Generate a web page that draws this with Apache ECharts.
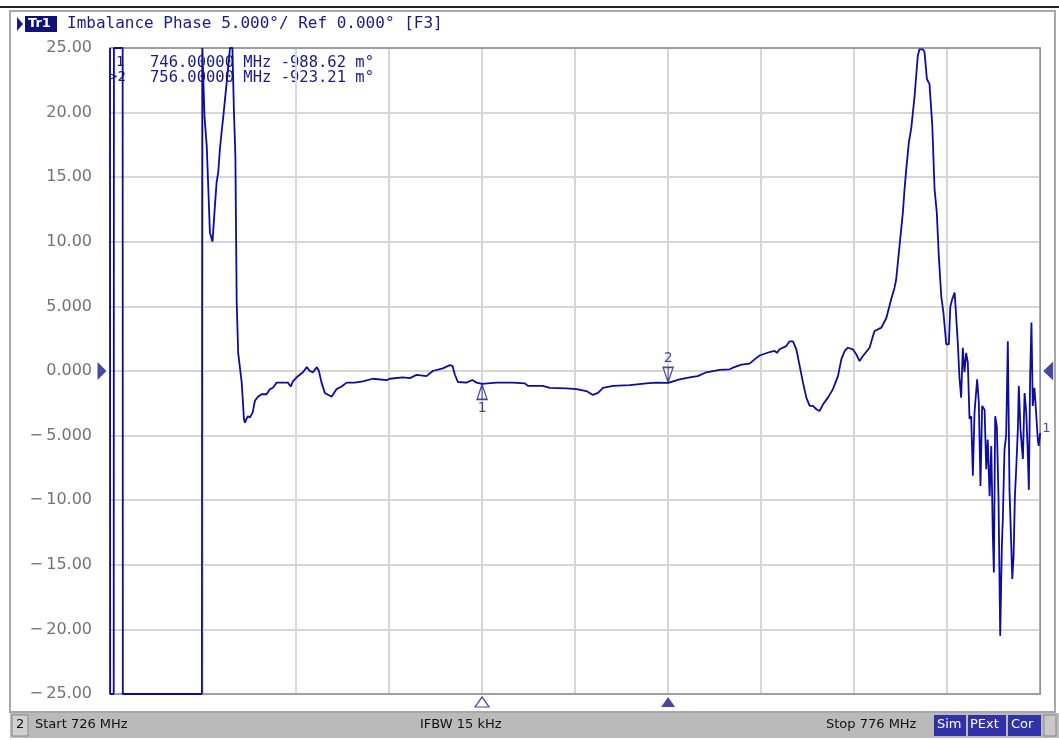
<!DOCTYPE html>
<html>
<head>
<meta charset="utf-8">
<script src="https://cdn.jsdelivr.net/npm/echarts@6/dist/echarts.min.js"></script>
<style>
html, body { margin: 0; padding: 0; background: #fff; }
#chart { width: 1059px; height: 740px; }
</style>
</head>
<body>
<div id="chart"></div>
<script>
// Imbalance phase trace, 726 - 776 MHz
var startMHz = 726;
var stopMHz = 776;

var freqMHz = [
  726.00, 726.01, 726.20, 726.21, 726.68, 726.69, 730.94, 730.96, 731.02,
  731.08, 731.20, 731.28, 731.37, 731.51, 731.64, 731.73, 731.82, 731.91, 732.00,
  732.09, 732.18, 732.27, 732.36, 732.45, 732.58, 732.66, 732.74, 732.81, 732.89,
  733.08, 733.20, 733.25, 733.41, 733.52, 733.67, 733.79, 733.95, 734.15, 734.42,
  734.60, 734.76, 734.96, 735.56, 735.72, 735.83, 736.10, 736.37, 736.58, 736.74,
  736.91, 737.12, 737.23, 737.37, 737.55, 737.91, 738.18, 738.45, 738.72, 739.16,
  739.59, 740.13, 740.87, 741.04, 741.74, 742.12, 742.48, 743.01, 743.35, 743.89,
  744.27, 744.41, 744.53, 744.70, 745.16, 745.48, 745.70, 746.00, 746.77, 747.65,
  748.29, 748.46, 749.26, 749.64, 750.53, 751.07, 751.61, 751.96, 752.23, 752.50,
  753.04, 753.94, 754.83, 755.37, 756.00, 756.62, 757.16, 757.59, 758.06, 758.77,
  759.31, 759.49, 759.94, 760.38, 760.65, 760.92, 761.46, 761.73, 761.85, 761.99,
  762.35, 762.53, 762.71, 762.89, 763.07, 763.25, 763.43, 763.61, 763.78, 763.97,
  764.14, 764.32, 764.59, 764.86, 765.13, 765.31, 765.49, 765.66, 765.93, 766.11,
  766.29, 766.47, 766.83, 767.01, 767.10, 767.46, 767.73, 767.99, 768.17, 768.26,
  768.44, 768.62, 768.71, 768.80, 768.94, 769.07, 769.25, 769.42, 769.51, 769.69,
  769.78, 769.91, 770.05, 770.20, 770.32, 770.44, 770.55, 770.68, 770.80, 770.95,
  771.09, 771.17, 771.27, 771.40, 771.45, 771.57, 771.66, 771.75, 771.84, 771.93,
  772.02, 772.11, 772.20, 772.29, 772.38, 772.47, 772.61, 772.70, 772.79, 772.88,
  773.01, 773.10, 773.18, 773.28, 773.37, 773.45, 773.51, 773.58, 773.67, 773.76,
  773.85, 773.94, 773.99, 774.08, 774.17, 774.26, 774.35, 774.44, 774.50, 774.57,
  774.64, 774.71, 774.80, 774.85, 774.94, 775.01, 775.07, 775.16, 775.25, 775.33,
  775.39, 775.46, 775.53, 775.60, 775.69, 775.78, 775.87, 775.92, 776.00
];

var phaseDeg = [
  25, -25, -25, 25, 25, -25, -25, 25, 25,
  19.7, 17.4, 14.3, 10.7, 10.0, 12.8, 14.6, 15.4, 17.2, 18.5,
  19.7, 21.0, 22.3, 23.6, 25, 25, 20.2, 16.6, 5.3, 1.4,
  -0.9, -3.7, -4.0, -3.5, -3.6, -3.2, -2.3, -2.0, -1.8, -1.8,
  -1.4, -1.3, -0.9, -0.9, -1.2, -0.8, -0.4, -0.1, 0.3, 0.0,
  -0.1, 0.3, 0.0, -0.9, -1.7, -2.0, -1.4, -1.2, -0.9, -0.9,
  -0.8, -0.6, -0.7, -0.6, -0.5, -0.55, -0.3, -0.4, 0.0, 0.2,
  0.45, 0.4, -0.25, -0.85, -0.9, -0.7, -0.9, -0.99, -0.9, -0.9,
  -0.95, -1.15, -1.15, -1.3, -1.35, -1.4, -1.55, -1.85, -1.7, -1.3,
  -1.15, -1.1, -0.95, -0.9, -0.92, -0.65, -0.5, -0.4, -0.1, 0.08,
  0.13, 0.26, 0.5, 0.57, 0.9, 1.2, 1.47, 1.55, 1.4, 1.68,
  1.93, 2.3, 2.3, 1.7, 0.4, -0.9, -2.06, -2.7, -2.7, -2.96,
  -3.1, -2.6, -2.06, -1.4, -0.4, 0.9, 1.55, 1.8, 1.68, 1.3,
  0.77, 1.16, 1.8, 2.7, 3.1, 3.36, 4.1, 5.55, 6.45, 7.1,
  9.7, 12.3, 14.1, 15.6, 17.7, 18.8, 21.3, 24.4, 24.9, 24.9,
  24.7, 22.6, 22.2, 19.0, 14.1, 12.3, 8.9, 5.8, 4.5, 2.07,
  2.07, 5.0, 5.55, 6.07, 5.0, 2.2, -0.5, -2.06, 1.8, -0.1,
  1.4, 0.65, -3.7, -3.5, -8.1, -3.2, -0.64, -2.4, -8.9, -2.7,
  -3.0, -7.6, -5.3, -9.7, -5.8, -12.5, -15.6, -3.5, -4.3, -9.9,
  -20.5, -13.5, -11.5, -6.1, -5.0, 2.3, -9.2, -13.3, -16.1, -14.3,
  -9.7, -7.6, -4.5, -1.16, -4.5, -5.8, -6.8, -1.7, -3.2, -6.3,
  -9.2, -0.4, 3.75, -2.7, -1.3, -3.2, -5.3, -5.8, -4.8
];

var yTickLabels = ['25.00', '20.00', '15.00', '10.00', '5.000', '0.000',
  '-5.000', '-10.00', '-15.00', '-20.00', '-25.00'];

var markerNames = ['1', '2'];
var markerFreqs = [746.0, 756.0];
var markerVals = [-0.98862, -0.92321];

var navy = '#1a1a8c';
var traceColor = '#0c0ca0';

var chart = echarts.init(document.getElementById('chart'));

var traceData = freqMHz.map(function (f, i) {
  return [f - startMHz, phaseDeg[i]];
});

var upTri = 'path://M5,0 L10,14 L0,14 Z M5,0 L5,14';
var downTri = 'path://M0,0 L10,0 L5,14 Z M5,0 L5,14';

var markerOnTrace = markerFreqs.map(function (f, i) {
  var up = i === 0;
  return {
    value: [f - startMHz, markerVals[i]],
    symbol: up ? upTri : downTri,
    symbolOffset: [0, up ? 8 : -8],
    label: {
      show: true,
      formatter: markerNames[i],
      position: up ? 'bottom' : 'top',
      distance: 1,
      color: navy,
      fontFamily: 'DejaVu Sans',
      fontSize: 14
    }
  };
});

var markerOnAxis = markerFreqs.map(function (f, i) {
  return {
    value: [f - startMHz, -25],
    itemStyle: i === 0 ? { color: '#fff', borderColor: navy, borderWidth: 1.2 } : { color: navy }
  };
});

var readouts = [];
markerFreqs.forEach(function (f, i) {
  var y = 62 + i * 15;
  readouts.push({
    type: 'text', left: i === 0 ? 116 : 109, top: y - 7,
    style: { text: (i === 0 ? '' : '>') + markerNames[i], fill: navy, font: '14px "DejaVu Sans Mono"' }
  });
  readouts.push({
    type: 'text', left: 150, top: y - 7,
    style: {
      text: f.toFixed(5) + ' MHz ' + (markerVals[i] * 1000).toFixed(2) + ' m\u00b0',
      fill: navy, font: '15.5px "DejaVu Sans Mono"'
    }
  });
});

var option = {
  animation: false,
  backgroundColor: '#fff',
  grid: { left: 110, right: 18.8, top: 48, bottom: 46 },
  xAxis: {
    type: 'value', min: 0, max: stopMHz - startMHz, interval: 5,
    axisLine: { show: false }, axisTick: { show: false }, axisLabel: { show: false },
    splitLine: { show: true, lineStyle: { color: '#d6d6d6', width: 2 } }
  },
  yAxis: {
    type: 'value', min: -25, max: 25, interval: 5,
    axisLine: { show: false }, axisTick: { show: false },
    axisLabel: {
      margin: 18, color: '#727272', fontFamily: 'DejaVu Sans', fontSize: 16,
      formatter: function (v) {
        return yTickLabels[Math.round((25 - v) / 5)].replace('-', '\u2212\u2009');
      }
    },
    splitLine: { show: true, lineStyle: { color: '#d6d6d6', width: 2 } }
  },
  series: [
    {
      type: 'line', data: traceData, showSymbol: false, clip: true,
      lineStyle: { color: traceColor, width: 1.8 },
      endLabel: {
        show: true, formatter: '1', color: '#4a4acc', fontFamily: 'DejaVu Sans',
        fontSize: 13, distance: 2, offset: [0, -4]
      },
      z: 3
    },
    {
      type: 'scatter', data: markerOnTrace, symbolSize: [10, 15], clip: false,
      itemStyle: { color: 'rgba(255,255,255,0.9)', borderColor: navy, borderWidth: 1.4 },
      z: 4
    },
    {
      type: 'scatter', data: markerOnAxis, symbol: 'triangle', symbolSize: [14, 10],
      symbolOffset: [0, 8], clip: false, z: 4
    },
    {
      type: 'scatter', clip: false, z: 4, itemStyle: { color: navy },
      data: [
        { value: [0, 0], symbol: 'path://M0,0 L10,9 L0,18 Z', symbolSize: [9, 18], symbolOffset: [-8, 0] },
        { value: [stopMHz - startMHz, 0], symbol: 'path://M10,0 L0,9 L10,18 Z', symbolSize: [10, 19], symbolOffset: [8, 0] }
      ]
    }
  ],
  graphic: [
    { type: 'rect', shape: { x: 0, y: 6, width: 1059, height: 2 }, style: { fill: '#222' }, z: -1 },
    { type: 'rect', shape: { x: 10, y: 11, width: 1045, height: 701 }, style: { fill: 'none', stroke: '#a8a8a8', lineWidth: 2 }, z: -1 },
    { type: 'rect', shape: { x: 110, y: 48, width: 930.2, height: 646 }, style: { fill: 'none', stroke: '#8c8c8c', lineWidth: 1.5 }, z: 2 },
    { type: 'polygon', shape: { points: [[17, 17], [23, 24], [17, 31]] }, style: { fill: navy } },
    { type: 'rect', shape: { x: 25, y: 16, width: 32, height: 16 }, style: { fill: '#10107a' } },
    { type: 'text', left: 28, top: 17, style: { text: 'Tr1', fill: '#fff', font: 'bold 13px "DejaVu Sans"' } },
    { type: 'text', left: 67, top: 16, style: { text: 'Imbalance Phase 5.000\u00b0/ Ref 0.000\u00b0 [F3]', fill: navy, font: '16px "DejaVu Sans Mono"' } },
    // status bar
    { type: 'rect', shape: { x: 10, y: 713, width: 1049, height: 25 }, style: { fill: '#bababa' } },
    { type: 'rect', shape: { x: 12, y: 715, width: 16, height: 21 }, style: { fill: '#d0d0d0', stroke: '#8a8a8a', lineWidth: 1 } },
    { type: 'text', left: 16, top: 718, style: { text: '2', fill: '#111', font: '13px "DejaVu Sans"' } },
    { type: 'text', left: 35, top: 718, style: { text: 'Start 726 MHz', fill: '#111', font: '13px "DejaVu Sans"' } },
    { type: 'text', left: 420, top: 718, style: { text: 'IFBW 15 kHz', fill: '#111', font: '13px "DejaVu Sans"' } },
    { type: 'text', left: 826, top: 718, style: { text: 'Stop 776 MHz', fill: '#111', font: '13px "DejaVu Sans"' } },
    { type: 'rect', shape: { x: 934, y: 715, width: 32, height: 21 }, style: { fill: '#3232a8' } },
    { type: 'text', left: 937, top: 718, style: { text: 'Sim', fill: '#fff', font: '13px "DejaVu Sans"' } },
    { type: 'rect', shape: { x: 968, y: 715, width: 38, height: 21 }, style: { fill: '#3232a8' } },
    { type: 'text', left: 970, top: 718, style: { text: 'PExt', fill: '#fff', font: '13px "DejaVu Sans"' } },
    { type: 'rect', shape: { x: 1008, y: 715, width: 33, height: 21 }, style: { fill: '#3232a8' } },
    { type: 'text', left: 1011, top: 718, style: { text: 'Cor', fill: '#fff', font: '13px "DejaVu Sans"' } },
    { type: 'rect', shape: { x: 1044, y: 715, width: 12, height: 21 }, style: { fill: '#c8c8c8', stroke: '#8a8a8a', lineWidth: 1 } }
  ].concat(readouts)
};

chart.setOption(option);
</script>
</body>
</html>
